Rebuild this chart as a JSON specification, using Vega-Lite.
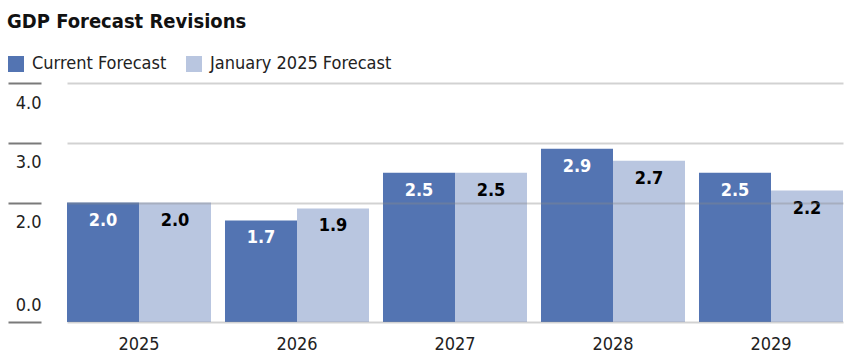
{
  "$schema": "https://vega.github.io/schema/vega-lite/v6.json",
  "width": 776,
  "height": 239,
  "autosize": {"type": "none"},
  "padding": {"left": 67, "top": 83, "right": 10, "bottom": 41},
  "title": {
    "text": "GDP Forecast Revisions",
    "anchor": "start",
    "frame": "group",
    "dx": -60,
    "fontSize": 20,
    "fontWeight": "bold",
    "color": "#111111",
    "offset": 23
  },
  "data": {
    "values": [
      {"year": "2025", "series": "Current Forecast", "value": 2.0},
      {"year": "2025", "series": "January 2025 Forecast", "value": 2.0},
      {"year": "2026", "series": "Current Forecast", "value": 1.7},
      {"year": "2026", "series": "January 2025 Forecast", "value": 1.9},
      {"year": "2027", "series": "Current Forecast", "value": 2.5},
      {"year": "2027", "series": "January 2025 Forecast", "value": 2.5},
      {"year": "2028", "series": "Current Forecast", "value": 2.9},
      {"year": "2028", "series": "January 2025 Forecast", "value": 2.7},
      {"year": "2029", "series": "Current Forecast", "value": 2.5},
      {"year": "2029", "series": "January 2025 Forecast", "value": 2.2}
    ]
  },
  "encoding": {
    "x": {
      "field": "year",
      "type": "nominal",
      "scale": {"paddingInner": 0.0886, "paddingOuter": 0},
      "axis": {
        "title": null,
        "ticks": false,
        "domain": false,
        "labelAngle": 0,
        "labelFontSize": 18,
        "labelColor": "#222222",
        "labelPadding": 13
      }
    },
    "xOffset": {
      "field": "series",
      "type": "nominal",
      "sort": ["Current Forecast", "January 2025 Forecast"],
      "scale": {"paddingInner": 0, "paddingOuter": 0}
    },
    "y": {
      "field": "value",
      "type": "quantitative",
      "scale": {"domain": [0, 4], "nice": false},
      "axis": {
        "title": null,
        "values": [0, 2, 3, 4],
        "format": ".1f",
        "offset": 26,
        "tickSize": 33,
        "tickWidth": 2,
        "tickColor": "#7a7a7a",
        "labelPadding": -33,
        "labelAlign": "right",
        "labelBaseline": "middle",
        "labelFontSize": 18,
        "labelColor": "#222222",
        "labelOffset": {"condition": {"test": "datum.value === 0", "value": -17}, "value": 20},
        "domain": false,
        "grid": true,
        "gridColor": "#888888",
        "gridOpacity": 0.38,
        "gridWidth": 2,
        "zindex": 1
      }
    }
  },
  "layer": [
    {
      "mark": {"type": "bar"},
      "encoding": {
        "color": {
          "field": "series",
          "type": "nominal",
          "scale": {
            "domain": ["Current Forecast", "January 2025 Forecast"],
            "range": ["#5374B2", "#B9C6E0"]
          },
          "legend": {
            "title": null,
            "orient": "none",
            "direction": "horizontal",
            "legendX": -60,
            "legendY": -28,
            "symbolType": "square",
            "symbolSize": 256,
            "symbolStrokeWidth": 0,
            "symbolOpacity": 1,
            "labelFontSize": 18,
            "labelColor": "#222222",
            "labelOffset": 7,
            "labelLimit": 400,
            "columnPadding": 18
          }
        }
      }
    },
    {
      "mark": {"type": "text", "fontSize": 18, "fontWeight": "bold", "baseline": "middle", "dy": 18},
      "encoding": {
        "text": {"field": "value", "type": "quantitative", "format": ".1f"},
        "color": {
          "condition": {"test": "datum.series === 'Current Forecast'", "value": "#ffffff"},
          "value": "#000000"
        }
      }
    },
    {
      "mark": {"type": "rule", "color": "#777777", "strokeWidth": 2},
      "encoding": {"y": {"datum": 0}}
    }
  ],
  "config": {
    "font": "DejaVu Sans Condensed, sans-serif",
    "view": {"stroke": null}
  }
}
